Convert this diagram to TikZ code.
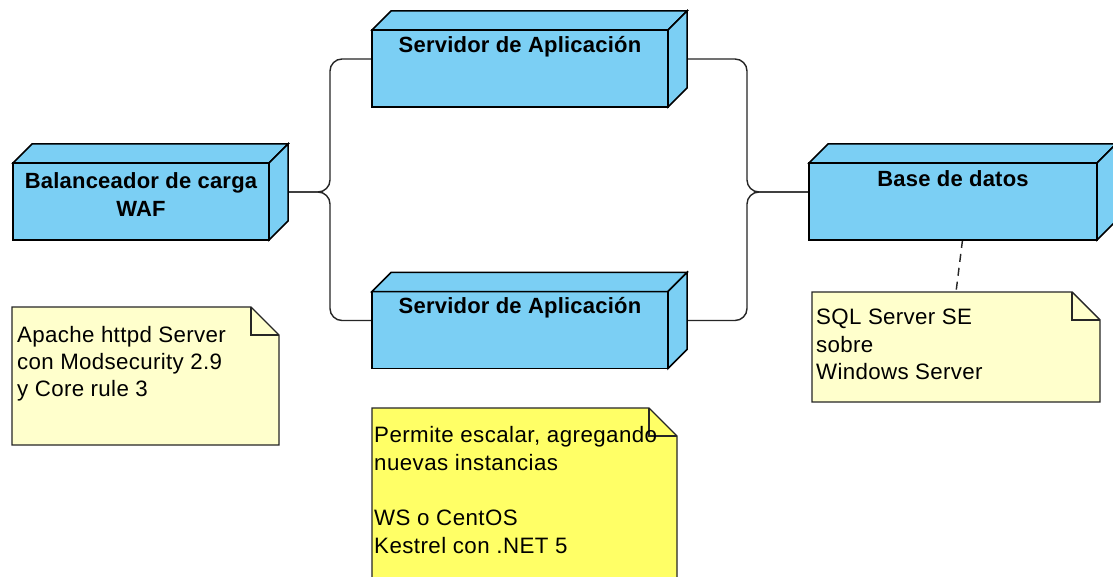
\documentclass[tikz,border=0pt]{standalone}
\usepackage{fontspec}
\setmainfont{Liberation Sans}
\usetikzlibrary{calc}
\definecolor{boxblue}{HTML}{7BCFF4}
\definecolor{notepale}{HTML}{FFFFCC}
\definecolor{notebright}{HTML}{FFFF66}
\newcommand\cubefaces[1]{%
  \draw[boxline] (#1.south west) -- ($(#1.north west)+(0,19)$) -- ($(#1.north east)+(-19,19)$) -- ($(#1.south east)+(-19,0)$) -- cycle;
  \draw[boxline] ($(#1.north west)+(0,19)$) -- ($(#1.north west)+(19,0)$) -- (#1.north east) -- ($(#1.north east)+(-19,19)$) -- cycle;
  \draw[boxline] ($(#1.north east)+(-19,19)$) -- (#1.north east) -- ($(#1.south east)+(0,-19)$) -- ($(#1.south east)+(-19,0)$) -- cycle;
}
\newcommand\notefaces[2]{%
  \draw[noteline, fill=#2] (#1.north west) -- ($(#1.north east)+(-28,0)$) -- ($(#1.north east)+(0,28)$) -- (#1.south east) -- (#1.south west) -- cycle;
  \draw[noteline] ($(#1.north east)+(-28,0)$) -- ($(#1.north east)+(-28,28)$) -- ($(#1.north east)+(0,28)$);
}
\tikzset{
  bbox/.style={inner sep=0pt, outer sep=0pt, draw=none},
  boxline/.style={fill=boxblue, draw=black, line width=1.5pt, line join=miter},
  noteline/.style={draw=black!85, line width=1.4pt, line join=miter},
  conn/.style={draw=black!85, line width=1.4pt, rounded corners=12pt},
  dconn/.style={draw=black!85, line width=1.4pt, dash pattern=on 8pt off 6pt},
  title/.style={inner sep=0pt, font=\bfseries\fontsize{22}{28}\selectfont\addfontfeatures{LetterSpace=1}, align=center},
  notetext/.style={inner sep=0pt, anchor=north west, align=left},
}
\begin{document}
\begin{tikzpicture}[x=1pt,y=-1pt]
\useasboundingbox (0,0) rectangle (1113,577);
\clip (0,0) rectangle (1113,577);
\fill[white] (0,0) rectangle (1113,577);
% boxes
\node[bbox, minimum width=275pt, minimum height=96pt] (bal) at (150.5,192) {};
\node[bbox, minimum width=315pt, minimum height=96pt] (srv1) at (529.5,59) {};
\node[bbox, minimum width=315pt, minimum height=96pt] (srv2) at (529.5,320.5) {};
\node[bbox, minimum width=307pt, minimum height=96pt] (db) at (962.5,192) {};
% notes
\node[bbox, minimum width=267pt, minimum height=138pt] (n1) at (145.5,376) {};
\node[bbox, minimum width=305pt, minimum height=176pt] (n2) at (524.5,496) {};
\node[bbox, minimum width=288pt, minimum height=110pt] (n3) at (956,347) {};
% connectors
\draw[conn] (bal.east) -- ++(42,0) |- (srv1.west);
\draw[conn] (bal.east) -- ++(42,0) |- (srv2.west);
\draw[conn] (srv1.east) -- ++(60,0) |- (db.west);
\draw[conn] (srv2.east) -- ++(60,0) |- (db.west);
\draw[dconn] (db.south) -- (n3.north);
% shapes
\cubefaces{bal}
\cubefaces{srv1}
\cubefaces{srv2}
\cubefaces{db}
\notefaces{n1}{notepale}
\notefaces{n2}{notebright}
\notefaces{n3}{notepale}
% titles
\node[title, anchor=north] (balt) at (141,172) {Balanceador de carga\\WAF};
\node[title, anchor=base] (srv1t) at (520,53) {Servidor de Aplicación};
\node[title, anchor=base] (srv2t) at (520,313) {Servidor de Aplicación};
\node[title, anchor=base] (dbt) at (953,187) {Base de datos};
% note texts
\node[notetext, font=\fontsize{22.3}{27}\selectfont\addfontfeatures{LetterSpace=1.5}] (n1t) at (17,326) {Apache httpd Server\\con Modsecurity 2.9\\y Core rule 3};
\node[notetext, font=\fontsize{22.3}{27.7}\selectfont\addfontfeatures{LetterSpace=2}] (n2t) at (374,426) {Permite escalar, agregando\\nuevas instancias\\[27.7pt]WS o CentOS\\Kestrel con .NET 5};
\node[notetext, font=\fontsize{22.3}{27.5}\selectfont\addfontfeatures{LetterSpace=1.5}] (n3t) at (816,309) {SQL Server SE\\sobre\\Windows Server};
\end{tikzpicture}
\end{document}
